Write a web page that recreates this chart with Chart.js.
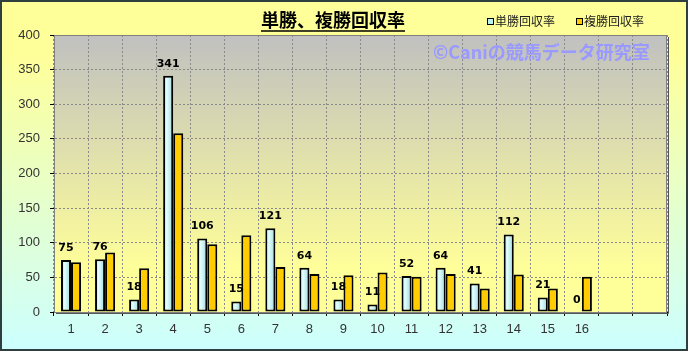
<!DOCTYPE html>
<html>
<head>
<meta charset="utf-8">
<script src="https://cdn.jsdelivr.net/npm/chart.js@4"></script>
<style>
html,body{margin:0;padding:0;background:#fff}
canvas{display:block}
</style>
</head>
<body>
<canvas id="chart" width="688" height="351"></canvas>
<script>
// ---- data ----
var labels = ['1','2','3','4','5','6','7','8','9','10','11','12','13','14','15','16','',''];
var tanshoValues  = [75, 76, 18, 341, 106, 15, 121, 64, 18, 11, 52, 64, 41, 112, 21, 0, null, null];
var fukushoValues = [72, 86, 63, 258, 98, 111, 65, 55, 53, 57, 51, 55, 34, 54, 34, 51, null, null];
var seriesNames = ['単勝回収率', '複勝回収率'];
var chartTitle = '単勝、複勝回収率';
var watermark = '©Caniの競馬データ研究室';
var yMin = 0, yMax = 400, yStep = 50;

var JP = '"Noto Sans CJK JP", "DejaVu Sans", sans-serif';
var BLUE = '#bdf0f2';
var GOLD = '#ffcc00';
var CAT_PCT = 0.59;

// 単勝バーは円柱っぽい横グラデーション
function blueFill(ctx) {
  var chart = ctx.chart, xs = chart.scales && chart.scales.x;
  if (!xs || !chart.chartArea || ctx.dataIndex === undefined) return BLUE;
  var cw = (xs.right - xs.left) / labels.length;
  var w = cw * CAT_PCT / 2;
  var cx = xs.getPixelForValue(ctx.dataIndex) - w / 2;
  var g = chart.ctx.createLinearGradient(cx - w / 2, 0, cx + w / 2, 0);
  g.addColorStop(0, '#a6dcdc');
  g.addColorStop(0.35, '#e2ffff');
  g.addColorStop(1, '#a0d6da');
  return g;
}

// 背景・枠
var backgroundPlugin = {
  id: 'bg',
  beforeDraw: function (chart) {
    var c = chart.ctx, a = chart.chartArea;
    var g = c.createLinearGradient(0, 0, 0, chart.height);
    g.addColorStop(0, '#ffff99');
    g.addColorStop(0.15, '#ffff99');
    g.addColorStop(1, '#ccffff');
    c.save();
    c.fillStyle = g;
    c.fillRect(0, 0, chart.width, chart.height);
    var pg = c.createLinearGradient(0, a.top, 0, a.bottom);
    pg.addColorStop(0, '#c0c0c0');
    pg.addColorStop(0.85, '#ffff99');
    pg.addColorStop(1, '#ffff99');
    c.fillStyle = pg;
    c.fillRect(a.left, a.top, a.right - a.left, a.bottom - a.top);
    c.restore();
  },
  afterDraw: function (chart) {
    var c = chart.ctx, a = chart.chartArea;
    c.save();
    // plot border
    c.strokeStyle = '#808080';
    c.lineWidth = 1;
    c.strokeRect(a.left + 0.5, a.top + 0.5, a.right - a.left - 1, a.bottom - a.top);
    c.strokeStyle = '#555';
    c.beginPath();
    c.moveTo(a.right + 1.5, a.top + 2);
    c.lineTo(a.right + 1.5, a.bottom + 1.5);
    c.lineTo(a.left + 2, a.bottom + 1.5);
    c.stroke();

    // title
    c.fillStyle = '#000';
    c.font = 'bold 18px ' + JP;
    c.textAlign = 'center';
    c.textBaseline = 'middle';
    c.fillText(chartTitle, 333, 20);
    var tw = c.measureText(chartTitle).width;
    c.lineWidth = 1.5;
    c.strokeStyle = '#000';
    c.beginPath();
    c.moveTo(333 - tw / 2, 31);
    c.lineTo(333 + tw / 2, 31);
    c.stroke();

    // legend
    c.font = '12px ' + JP;
    c.textAlign = 'left';
    var lx = [487, 576], cols = [BLUE, GOLD];
    for (var i = 0; i < 2; i++) {
      c.fillStyle = cols[i];
      c.fillRect(lx[i], 18, 6, 6);
      c.lineWidth = 1;
      c.strokeStyle = '#000';
      c.strokeRect(lx[i] + 0.5, 18.5, 6, 6);
      c.fillStyle = '#222';
      c.fillText(seriesNames[i], lx[i] + 8, 21);
    }

    // watermark
    c.font = 'bold 18px ' + JP;
    c.fillStyle = '#9999ff';
    c.fillText(watermark, 433, 52);

    // outer frame
    c.strokeStyle = '#2f3f3f';
    c.lineWidth = 2;
    c.strokeRect(1, 1, chart.width - 2, chart.height - 2);
    c.restore();
  }
};

// 単勝の数値ラベル
var valueLabelPlugin = {
  id: 'valueLabels',
  afterDatasetsDraw: function (chart) {
    var c = chart.ctx;
    var meta = chart.getDatasetMeta(0);
    c.save();
    c.font = 'bold 11px "DejaVu Sans", sans-serif';
    c.fillStyle = '#000';
    c.textAlign = 'center';
    c.textBaseline = 'middle';
    meta.data.forEach(function (bar, i) {
      var v = tanshoValues[i];
      if (v === null || v === undefined) return;
      c.fillText(String(v), bar.x, bar.y - 12);
    });
    c.restore();
  }
};

new Chart(document.getElementById('chart'), {
  type: 'bar',
  data: {
    labels: labels,
    datasets: [
      { label: seriesNames[0], data: tanshoValues, backgroundColor: blueFill, borderColor: '#000', borderWidth: 2, borderSkipped: false },
      { label: seriesNames[1], data: fukushoValues, backgroundColor: GOLD, borderColor: '#000', borderWidth: 2, borderSkipped: false }
    ]
  },
  options: {
    responsive: false,
    animation: false,
    layout: { padding: { top: 35, right: 21, left: 0, bottom: 0 } },
    datasets: { bar: { categoryPercentage: CAT_PCT, barPercentage: 1.0 } },
    plugins: {
      legend: { display: false },
      title: { display: false },
      tooltip: { enabled: false }
    },
    scales: {
      x: {
        grid: { color: '#8a8a8a', lineWidth: 1, tickLength: 4, tickColor: '#000', offset: true },
        border: { color: '#000', width: 1, dash: [2, 2] },
        ticks: { color: '#333', font: { family: '"Liberation Sans", Arial, sans-serif', size: 13 }, padding: 6, maxRotation: 0, autoSkip: false },
        afterFit: function (s) { s.height = 39; }
      },
      y: {
        min: yMin, max: yMax,
        grid: { color: '#8a8a8a', lineWidth: 1, tickLength: 4, tickColor: '#000' },
        border: { color: '#000', width: 1, dash: [2, 2] },
        ticks: { stepSize: yStep, color: '#333', font: { family: '"Liberation Sans", Arial, sans-serif', size: 13 }, padding: 10 },
        afterFit: function (s) { s.width = 54; }
      }
    }
  },
  plugins: [backgroundPlugin, valueLabelPlugin]
});
</script>
</body>
</html>
